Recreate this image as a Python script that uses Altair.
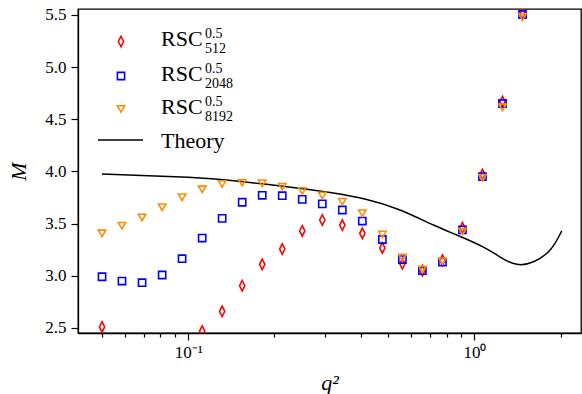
import altair as alt
import pandas as pd

# ---------------- data ----------------
q2 = [0.05, 0.0587, 0.069, 0.0811, 0.0952, 0.1119, 0.1314, 0.1544, 0.1814, 0.2131, 0.2503,
      0.2941, 0.3455, 0.4059, 0.4768, 0.5602, 0.6581, 0.7731, 0.9083, 1.067, 1.2535, 1.4726]
rsc512 = [2.51, None, None, None, None, 2.47, 2.66, 2.905, 3.11, 3.257, 3.43,
          3.535, 3.487, 3.407, 3.267, 3.115, 3.05, 3.15, 3.46, 3.97, 4.67, 5.51]
rsc2048 = [2.991, 2.95, 2.934, 3.008, 3.164, 3.362, 3.551, 3.705, 3.772, 3.768, 3.733,
           3.69, 3.631, 3.525, 3.348, 3.156, 3.05, 3.132, 3.44, 3.95, 4.652, 5.505]
rsc8192 = [3.407, 3.48, 3.56, 3.657, 3.753, 3.829, 3.88, 3.893, 3.887, 3.854, 3.813,
           3.77, 3.71, 3.6, 3.396, 3.175, 3.06, 3.14, 3.425, 3.94, 4.615, 5.48]
theory_q2 = [0.05, 0.1, 0.1537, 0.2478, 0.3214, 0.4204, 0.5497, 0.719, 0.868, 1.075,
             1.23, 1.407, 1.608, 1.839, 2.02]
theory_m = [3.976, 3.944, 3.904, 3.837, 3.794, 3.732, 3.631, 3.487, 3.391, 3.275,
            3.18, 3.11, 3.135, 3.247, 3.432]
x_major = [0.1, 1.0]
x_minor = [0.05, 0.06, 0.07, 0.08, 0.09, 0.2, 0.3, 0.4, 0.5, 0.6, 0.7, 0.8, 0.9, 2.0]
y_ticks = [2.5, 3.0, 3.5, 4.0, 4.5, 5.0, 5.5]
series_names = ["512", "2048", "8192"]

# ---------------- style ----------------
FONT = "Liberation Serif"
W, H = 503, 324
XDOM = [0.04121, 2.357]
YDOM = [2.452, 5.5575]
RED, BLUE, ORANGE = "#ff0000", "#0000ff", "#ff8c00"
THIN_DIAMOND = "M0,-1L0.5,0L0,1L-0.5,0Z"

xscale = alt.Scale(type="log", domain=XDOM, nice=False)
yscale = alt.Scale(domain=YDOM, nice=False, zero=False)

xaxis = alt.Axis(
    values=x_major + x_minor,
    labelExpr="datum.value == 0.1 ? '10⁻¹' : (datum.value == 1 ? '10⁰' : '')",
    tickSize={"condition": {"test": "datum.value == 0.1 || datum.value == 1", "value": 7}, "value": 4},
    labelPadding=4,
    title="q²",
    titleFontStyle="italic",
    titleFontSize=22,
    titleY=56,
    titleBaseline="alphabetic",
)
yaxis = alt.Axis(
    values=y_ticks,
    format=".1f",
    tickSize=7,
    labelPadding=5,
    title="M",
    titleFontStyle="italic",
    titleFontSize=22,
    titleAngle=270,
    titleX=-60,
    titleY=162,
    titleBaseline="middle",
    titleAlign="center",
)


def series_layer(values, color, shape, size):
    df = pd.DataFrame({"q2": q2, "M": values}).dropna()
    return alt.Chart(df).mark_point(
        shape=shape, size=size, filled=False, stroke=color, strokeWidth=1.6, clip=True, opacity=1
    ).encode(
        x=alt.X("q2:Q", scale=xscale, axis=xaxis),
        y=alt.Y("M:Q", scale=yscale, axis=yaxis),
    )


theory_df = pd.DataFrame({"q2": theory_q2, "M": theory_m})
theory = alt.Chart(theory_df).mark_line(color="black", strokeWidth=1.5, interpolate="natural", clip=True).encode(
    x=alt.X("q2:Q", scale=xscale, axis=xaxis),
    y=alt.Y("M:Q", scale=yscale, axis=yaxis),
)

layers = [
    theory,
    series_layer(rsc512, RED, THIN_DIAMOND, 110),
    series_layer(rsc2048, BLUE, "square", 52),
    series_layer(rsc8192, ORANGE, "triangle-down", 55),
]

# ---------------- manual legend (pixel layout) ----------------
dummy = pd.DataFrame({"a": [0]})
leg_colors = [RED, BLUE, ORANGE]
leg_shapes = [THIN_DIAMOND, "square", "triangle-down"]
leg_sizes = [110, 52, 55]
marker_y = [32.5, 67, 100]
main_base = [36.5, 71.5, 105]
sup_base = [28.5, 63.5, 97]
sub_base = [44, 78.5, 111.5]
for i in range(3):
    layers.append(alt.Chart(dummy).mark_point(
        shape=leg_shapes[i], size=leg_sizes[i], filled=False, stroke=leg_colors[i], strokeWidth=1.6, opacity=1
    ).encode(x=alt.value(43), y=alt.value(marker_y[i])))
    layers.append(alt.Chart(dummy).mark_text(
        align="left", baseline="alphabetic", font=FONT, fontSize=22, color="black"
    ).encode(x=alt.value(83), y=alt.value(main_base[i]), text=alt.value("RSC")))
    layers.append(alt.Chart(dummy).mark_text(
        align="left", baseline="alphabetic", font=FONT, fontSize=14, color="black"
    ).encode(x=alt.value(127), y=alt.value(sup_base[i]), text=alt.value("0.5")))
    layers.append(alt.Chart(dummy).mark_text(
        align="left", baseline="alphabetic", font=FONT, fontSize=14, color="black"
    ).encode(x=alt.value(127), y=alt.value(sub_base[i]), text=alt.value(series_names[i])))

layers.append(alt.Chart(dummy).mark_rule(color="black", strokeWidth=1.5).encode(
    x=alt.value(20), x2=alt.value(65), y=alt.value(131)))
layers.append(alt.Chart(dummy).mark_text(
    align="left", baseline="alphabetic", font=FONT, fontSize=22, color="black"
).encode(x=alt.value(83), y=alt.value(139), text=alt.value("Theory")))

chart = alt.layer(*layers).properties(
    width=W,
    height=H,
    background="white",
    autosize=alt.AutoSizeParams(type="none"),
    padding={"left": 78, "top": 9, "right": 1, "bottom": 61},
).configure_view(
    stroke="black", strokeWidth=1.3
).configure_axis(
    grid=False,
    domainColor="black",
    domainWidth=1.3,
    tickColor="black",
    tickWidth=1.2,
    labelFont=FONT,
    labelFontSize=17,
    labelColor="black",
    titleFont=FONT,
    titleColor="black",
    titleFontWeight="normal",
)

chart.save("out.html", embed_options={"renderer": "svg", "actions": False})
